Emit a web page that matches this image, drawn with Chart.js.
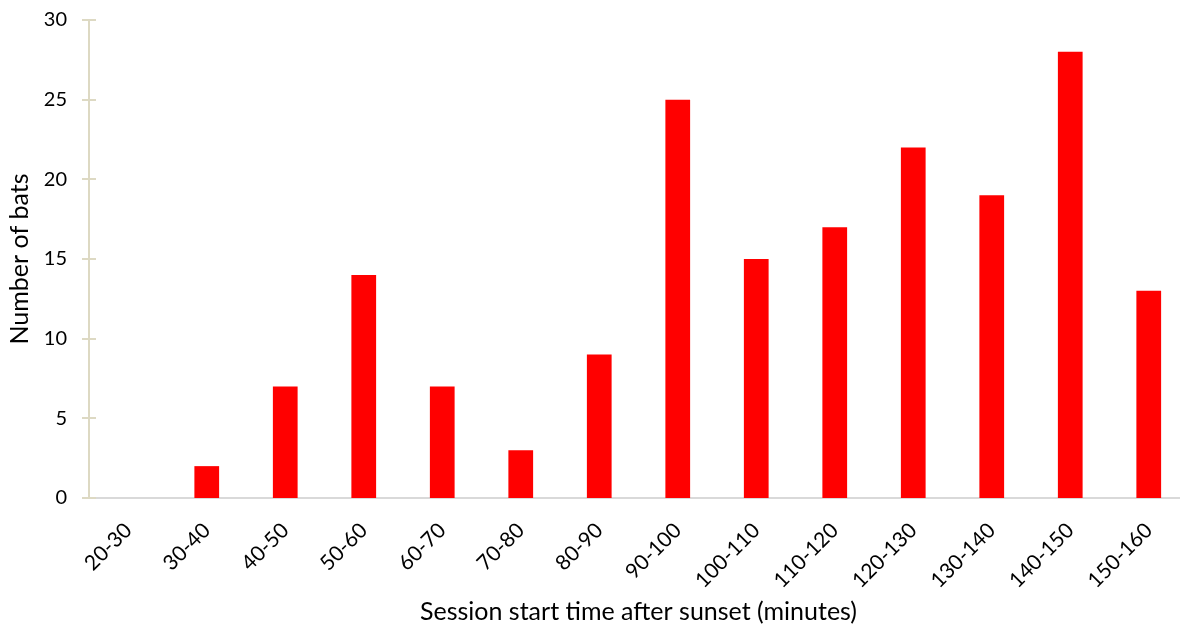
<!DOCTYPE html>
<html>
<head>
<meta charset="utf-8">
<script src="https://cdn.jsdelivr.net/npm/chart.js@4/dist/chart.umd.min.js"></script>
<style>
  html, body { margin: 0; padding: 0; background: #ffffff; overflow: hidden; }
  #wrap { width: 1188px; height: 631px; position: relative; }
</style>
</head>
<body>
<div id="wrap"><canvas id="chart"></canvas></div>
<script>
// Session start time bins (minutes after sunset)
const categories = ['20-30', '30-40', '40-50', '50-60', '60-70', '70-80', '80-90',
  '90-100', '100-110', '110-120', '120-130', '130-140', '140-150', '150-160'];
// Number of bats starting a session in each bin
const batCounts = [0, 2, 7, 14, 7, 3, 9, 25, 15, 17, 22, 19, 28, 13];
// Y axis range and step
const yTicks = [0, 5, 10, 15, 20, 25, 30];

const FONT = 'Lato, "Open Sans", sans-serif';
const Y_AXIS_COLOR = '#ddd9c3';
const X_AXIS_COLOR = '#d9d9d9';

// Tick marks on the value axis that cross the axis line on both sides
const crossTicks = {
  id: 'crossTicks',
  afterDraw(chart) {
    const y = chart.scales.y;
    const ctx = chart.ctx;
    const x0 = y.right;
    ctx.save();
    ctx.strokeStyle = Y_AXIS_COLOR;
    ctx.lineWidth = 2;
    ctx.beginPath();
    y.ticks.forEach((t, i) => {
      const py = Math.round(y.getPixelForTick(i));
      ctx.moveTo(x0 - 7, py);
      ctx.lineTo(x0 + 7, py);
    });
    ctx.stroke();
    ctx.restore();
  }
};

function fixedBox(scale) {
  scale.paddingTop = 0;
  scale.paddingBottom = 0;
  scale.paddingLeft = 0;
  scale.paddingRight = 0;
}

new Chart(document.getElementById('chart'), {
  type: 'bar',
  data: {
    labels: categories,
    datasets: [{
      label: 'Number of bats',
      data: batCounts,
      backgroundColor: '#ff0000',
      borderWidth: 0,
      barPercentage: 1,
      categoryPercentage: 0.315
    }]
  },
  options: {
    responsive: true,
    maintainAspectRatio: false,
    animation: false,
    layout: { padding: { top: 20, right: 0, left: 0, bottom: 0 } },
    plugins: {
      legend: { display: false },
      tooltip: { enabled: false }
    },
    scales: {
      x: {
        offset: true,
        grid: { display: false, drawTicks: false },
        border: { display: true, color: X_AXIS_COLOR, width: 2 },
        ticks: {
          color: '#000000',
          font: { family: FONT, size: 21 },
          maxRotation: 45,
          minRotation: 45,
          autoSkip: false,
          padding: 20
        },
        title: {
          display: true,
          text: 'Session start time after sunset (minutes)',
          color: '#000000',
          font: { family: FONT, size: 25 },
          padding: { top: 0, bottom: 4 }
        },
        afterFit(scale) { scale.height = 133; fixedBox(scale); }
      },
      y: {
        min: yTicks[0],
        max: yTicks[yTicks.length - 1],
        afterBuildTicks(scale) { scale.ticks = yTicks.map(v => ({ value: v })); },
        grid: { display: false, drawTicks: false },
        border: { display: true, color: Y_AXIS_COLOR, width: 2 },
        ticks: {
          color: '#000000',
          font: { family: FONT, size: 20 },
          padding: 22
        },
        title: {
          display: true,
          text: 'Number of bats',
          color: '#000000',
          font: { family: FONT, size: 25 },
          padding: { top: 5, bottom: 0 }
        },
        afterFit(scale) { scale.width = 89; fixedBox(scale); }
      }
    }
  },
  plugins: [crossTicks]
});
</script>
</body>
</html>
